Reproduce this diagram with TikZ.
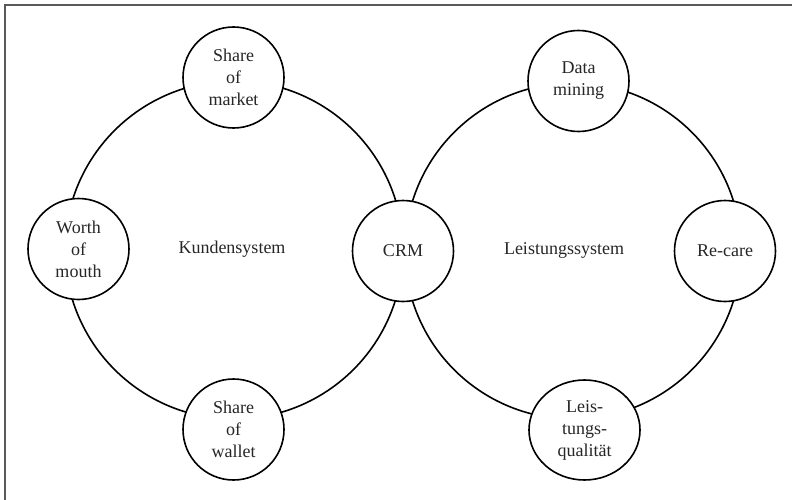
\documentclass[tikz,border=0pt]{standalone}
\usepackage{fontspec}
\setmainfont{Liberation Serif}
\usetikzlibrary{shapes.geometric}

\begin{document}
\begin{tikzpicture}[x=1pt,y=-1pt,
    ring/.style={line width=1.6pt},
    sat/.style={draw,circle,line width=1.6pt,fill=white,minimum size=101pt,
      inner sep=0pt,align=center,text=black!85,
      font=\fontsize{18}{22}\selectfont},
    oval/.style={sat,ellipse,minimum width=111pt,minimum height=100pt},
    sysname/.style={text=black!85,font=\fontsize{18}{22}\selectfont}]
  \useasboundingbox (0,0) rectangle (792,500);
  % frame
  \draw[gray!70!black,line width=1.4pt] (5,500) -- (5,5) -- (792,5);
  % the two systems
  \draw[ring] (234,250) circle (169pt);
  \draw[ring] (573,251) circle (168pt);
  \node[sysname] (kunden) at (232,249) {Kundensystem};
  \node[sysname] (leistung) at (564,250) {Leistungssystem};
  % nodes on the rings
  \node[sat] (market) at (233.5,77.5) {Share\\of\\market};
  \node[sat] (mouth) at (78.5,249) {Worth\\of\\mouth};
  \node[sat] (wallet) at (233.5,429.5) {Share\\of\\wallet};
  \node[sat] (crm) at (403,251) {CRM};
  \node[sat] (mining) at (578.5,81) {Data\\mining};
  \node[sat] (recare) at (725,251) {Re-care};
  \node[oval] (quali) at (584.5,430) {Leis-\\tungs-\\qualität};
\end{tikzpicture}
\end{document}
